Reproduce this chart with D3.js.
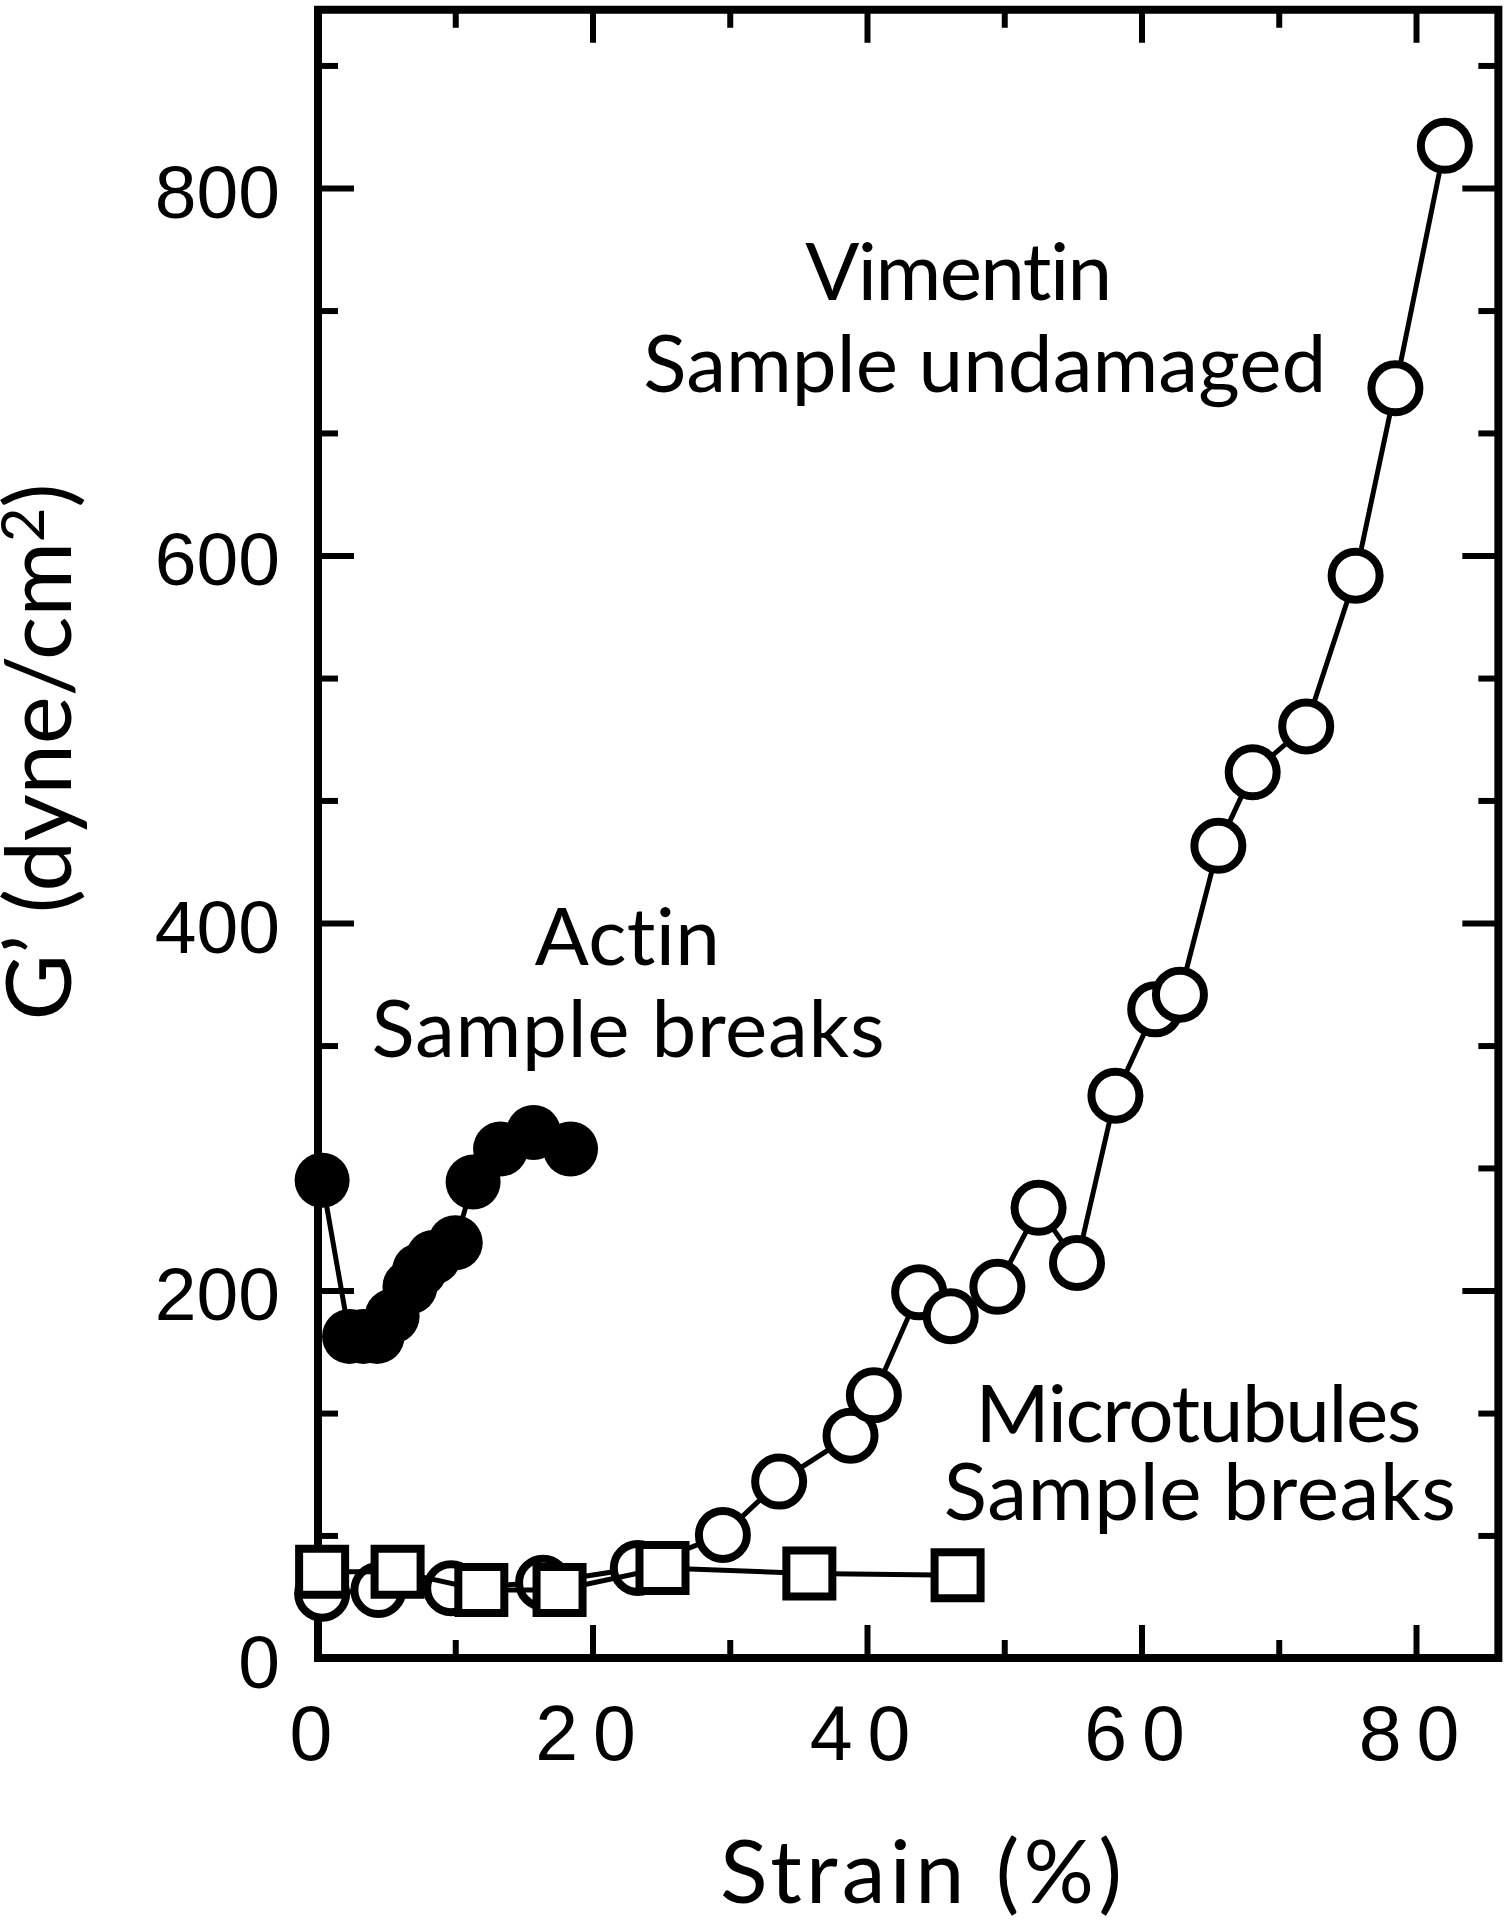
<!DOCTYPE html>
<html>
<head>
<meta charset="utf-8">
<script src="https://cdn.jsdelivr.net/npm/d3@7"></script>
<style>
  body { margin: 0; background: #fff; }
  svg { display: block; }
  text { font-variant-ligatures: none; font-feature-settings: "liga" 0, "clig" 0; }
</style>
</head>
<body>
<div id="chart"></div>
<script>
// values: strain (%) and G' (dyne/cm2)
var vimentinStrain = [0.3, 4.4, 9.7, 16.4, 23.3, 29.5, 33.6, 38.8, 40.5, 43.8, 46.1, 49.5, 52.5, 55.3, 58.1, 61.0, 62.8, 65.6, 68.1, 72.0, 75.6, 78.5, 82.1];
var vimentinG      = [35, 37, 38, 41, 49, 67, 96, 121, 143, 199, 186, 202, 245, 215, 306, 353, 361, 442, 482, 507, 589, 691, 823];

var actinStrain = [0.3, 2.3, 3.3, 4.3, 5.4, 6.7, 7.4, 8.4, 10.0, 11.3, 13.3, 15.7, 18.4];
var actinG      = [260, 175, 175, 175, 186, 202, 211, 218, 226, 259, 277, 286, 277];

var microStrain = [0.3, 5.8, 11.9, 17.6, 25.1, 35.8, 46.6];
var microG      = [47, 47, 37, 37, 49, 46, 45];

var xMajorTicks = [0, 20, 40, 60, 80];
var xMinorTicks = [10, 30, 50, 70];
var yMajorTicks = [0, 200, 400, 600, 800];
var yMinorTicks = [66.7, 133.3, 266.7, 333.3, 466.7, 533.3, 666.7, 733.3, 866.7];

var width = 1509, height = 1920,
    xMax = 86, yMax = 897,
    labelFont = "'Liberation Sans', Arial, Helvetica, sans-serif",
    textFont = "Lato, 'Noto Sans', sans-serif";

var x = d3.scaleLinear().domain([0, 80]).range([318, 1416]);
var y = d3.scaleLinear().domain([0, 800]).range([1658, 188]);

function zip(xs, ys) {
  return xs.map(function(d, i) { return [d, ys[i]]; });
}

var vimentin = zip(vimentinStrain, vimentinG),
    actin = zip(actinStrain, actinG),
    micro = zip(microStrain, microG);

var line = d3.line()
  .x(function(d) { return x(d[0]); })
  .y(function(d) { return y(d[1]); });

var svg = d3.select("#chart").append("svg")
  .attr("width", width)
  .attr("height", height);

svg.append("rect")
  .attr("width", width).attr("height", height)
  .attr("fill", "#fff");

// frame
svg.append("rect")
  .attr("x", x(0))
  .attr("y", y(yMax))
  .attr("width", x(xMax) - x(0))
  .attr("height", y(0) - y(yMax))
  .attr("fill", "none")
  .attr("stroke", "#000")
  .attr("stroke-width", 8);

// inward ticks on all four sides
function ticks(axis, transform, values, size) {
  var g = svg.append("g")
    .attr("transform", transform)
    .call(axis.tickValues(values).tickSize(-size).tickFormat(""));
  g.select(".domain").remove();
  g.selectAll("line").attr("stroke", "#000").attr("stroke-width", 6);
}

ticks(d3.axisBottom(x), "translate(0," + y(0) + ")", xMajorTicks, 33);
ticks(d3.axisBottom(x), "translate(0," + y(0) + ")", xMinorTicks, 18);
ticks(d3.axisTop(x), "translate(0," + y(yMax) + ")", xMajorTicks, 33);
ticks(d3.axisTop(x), "translate(0," + y(yMax) + ")", xMinorTicks, 18);
ticks(d3.axisLeft(y), "translate(" + x(0) + ",0)", yMajorTicks, 36);
ticks(d3.axisLeft(y), "translate(" + x(0) + ",0)", yMinorTicks, 20);
ticks(d3.axisRight(y), "translate(" + x(xMax) + ",0)", yMajorTicks, 36);
ticks(d3.axisRight(y), "translate(" + x(xMax) + ",0)", yMinorTicks, 20);

// tick labels
var xLabels = svg.append("g")
  .attr("transform", "translate(0," + y(0) + ")")
  .call(d3.axisBottom(x).tickValues(xMajorTicks).tickSize(0).tickPadding(47).tickFormat(d3.format("d")));
xLabels.select(".domain").remove();
xLabels.selectAll("text")
  .attr("font-family", labelFont)
  .attr("font-size", 77)
  .attr("letter-spacing", 15)
  .attr("fill", "#000");

var yLabels = svg.append("g")
  .attr("transform", "translate(" + x(0) + ",0)")
  .call(d3.axisLeft(y).tickValues(yMajorTicks).tickSize(0).tickPadding(38).tickFormat(d3.format("d")));
yLabels.select(".domain").remove();
yLabels.selectAll("text")
  .attr("font-family", labelFont)
  .attr("font-size", 75)
  .attr("dy", "0.39em")
  .attr("fill", "#000");

// axis titles
svg.append("text")
  .attr("x", 921)
  .attr("y", 1903)
  .attr("text-anchor", "middle")
  .attr("font-family", textFont)
  .attr("font-size", 88)
  .attr("textLength", 402)
  .text("Strain (%)");

var yTitle = svg.append("text")
  .attr("transform", "translate(71,752) rotate(-90)")
  .attr("text-anchor", "middle")
  .attr("font-family", textFont)
  .attr("font-size", 91)
  .attr("textLength", 537);
yTitle.append("tspan").text("G\u2019 (dyne/cm");
yTitle.append("tspan").attr("dy", -27).attr("font-size", 60).text("2");
yTitle.append("tspan").attr("dy", 27).text(")");

// vimentin: open circles
svg.append("path")
  .datum(vimentin)
  .attr("d", line)
  .attr("fill", "none")
  .attr("stroke", "#000")
  .attr("stroke-width", 5);

svg.append("g").selectAll("circle")
  .data(vimentin)
  .enter().append("circle")
  .attr("cx", function(d) { return x(d[0]); })
  .attr("cy", function(d) { return y(d[1]); })
  .attr("r", 24)
  .attr("fill", "#fff")
  .attr("stroke", "#000")
  .attr("stroke-width", 8);

// microtubules: open squares
svg.append("path")
  .datum(micro)
  .attr("d", line)
  .attr("fill", "none")
  .attr("stroke", "#000")
  .attr("stroke-width", 5);

svg.append("g").selectAll("path")
  .data(micro)
  .enter().append("path")
  .attr("transform", function(d) { return "translate(" + x(d[0]) + "," + y(d[1]) + ")"; })
  .attr("d", d3.symbol().type(d3.symbolSquare).size(46 * 46))
  .attr("fill", "#fff")
  .attr("stroke", "#000")
  .attr("stroke-width", 8);

// actin: filled circles
svg.append("path")
  .datum(actin)
  .attr("d", line)
  .attr("fill", "none")
  .attr("stroke", "#000")
  .attr("stroke-width", 5);

svg.append("g").selectAll("circle")
  .data(actin)
  .enter().append("circle")
  .attr("cx", function(d) { return x(d[0]); })
  .attr("cy", function(d) { return y(d[1]); })
  .attr("r", 27.5)
  .attr("fill", "#000");

// annotations, anchored in data units
var notes = [
  {t: "Vimentin", s: 35.5, g: 739, w: 307},
  {t: "Sample undamaged", s: 23.7, g: 689, w: 683},
  {t: "Actin", s: 15.8, g: 377, w: 185},
  {t: "Sample breaks", s: 3.9, g: 327, w: 513},
  {t: "Microtubules", s: 47.9, g: 117.5, w: 446},
  {t: "Sample breaks", s: 45.6, g: 75, w: 512}
];

svg.append("g").selectAll("text")
  .data(notes)
  .enter().append("text")
  .attr("x", function(d) { return x(d.s); })
  .attr("y", function(d) { return y(d.g); })
  .attr("textLength", function(d) { return d.w; })
  .attr("font-family", textFont)
  .attr("font-size", 80)
  .attr("fill", "#000")
  .text(function(d) { return d.t; });
</script>
</body>
</html>
